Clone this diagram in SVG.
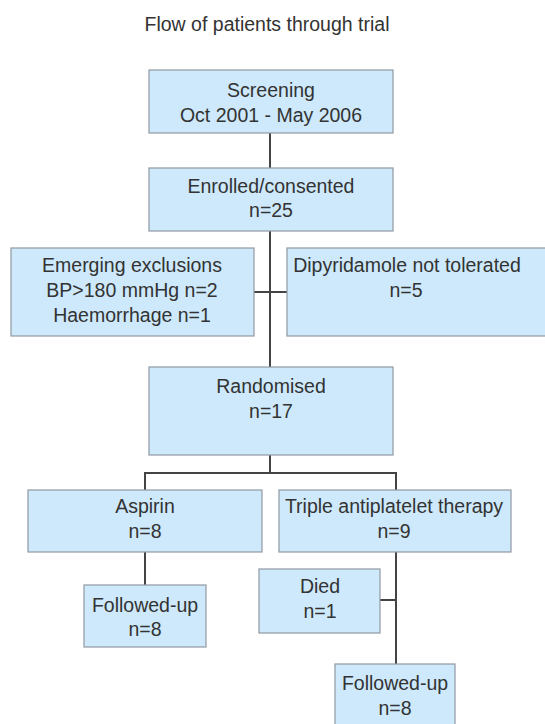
<svg xmlns="http://www.w3.org/2000/svg" width="545" height="724" viewBox="0 0 545 724">
<style>
.box{fill:#cde9fb;stroke:#8f9aa2;stroke-width:1.2}
.t{font-family:"Liberation Sans",Arial,sans-serif;font-size:19.5px;fill:#333;text-anchor:middle}
.ln{stroke:#444;stroke-width:2;fill:none}
</style>
<rect width="545" height="724" fill="#fff"/>
<text class="t" x="267" y="31">Flow of patients through trial</text>
<g id="connectors">
<path class="ln" d="M270 133V168M270 231V367M254 292H287M270 455V473M145 473H396M145 472V490M396 472V490M145 552V585M396 552V664M380 600H396"/>
</g>
<g id="screening"><rect class="box" x="149" y="70" width="244" height="63"/><text class="t" x="271" y="97">Screening</text><text class="t" x="271" y="122">Oct 2001 - May 2006</text></g>
<g id="enrolled"><rect class="box" x="149" y="168" width="244" height="63"/><text class="t" x="271" y="193">Enrolled/consented</text><text class="t" x="271" y="217">n=25</text></g>
<g id="exclusions"><rect class="box" x="11" y="248" width="243" height="88"/><text class="t" x="132" y="272">Emerging exclusions</text><text class="t" x="132" y="297">BP&gt;180 mmHg n=2</text><text class="t" x="132" y="322">Haemorrhage n=1</text></g>
<g id="dipyridamole"><rect class="box" x="287" y="248" width="270" height="88"/><text class="t" x="407" y="272">Dipyridamole not tolerated</text><text class="t" x="406" y="297">n=5</text></g>
<g id="randomised"><rect class="box" x="149" y="367" width="244" height="88"/><text class="t" x="271" y="393">Randomised</text><text class="t" x="271" y="418">n=17</text></g>
<g id="aspirin"><rect class="box" x="28" y="490" width="234" height="62"/><text class="t" x="145" y="513">Aspirin</text><text class="t" x="145" y="538">n=8</text></g>
<g id="triple"><rect class="box" x="279" y="490" width="232" height="62"/><text class="t" x="394" y="513">Triple antiplatelet therapy</text><text class="t" x="394" y="538">n=9</text></g>
<g id="followup-aspirin"><rect class="box" x="84" y="585" width="122" height="62"/><text class="t" x="145" y="612">Followed-up</text><text class="t" x="145" y="636">n=8</text></g>
<g id="died"><rect class="box" x="259" y="569" width="121" height="64"/><text class="t" x="320" y="593">Died</text><text class="t" x="320" y="618">n=1</text></g>
<g id="followup-triple"><rect class="box" x="335" y="664" width="120" height="70"/><text class="t" x="395" y="690">Followed-up</text><text class="t" x="395" y="715">n=8</text></g>
</svg>
